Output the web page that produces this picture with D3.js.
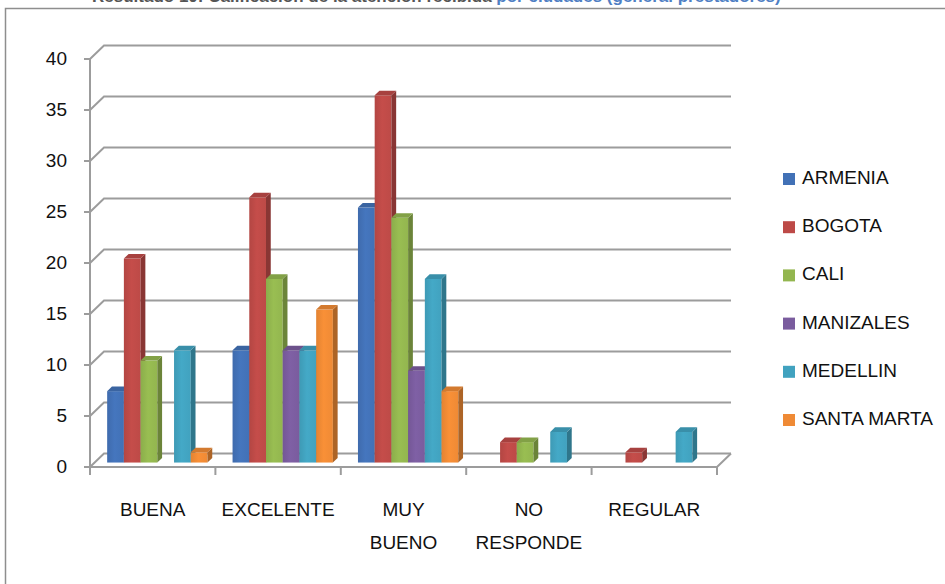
<!DOCTYPE html>
<html><head><meta charset="utf-8">
<script src="https://cdn.jsdelivr.net/npm/d3@7"></script>
<style>
html,body{margin:0;padding:0;background:#fff;overflow:hidden;}
svg{display:block;font-family:"Liberation Sans",Arial,sans-serif;}
</style></head>
<body><svg id="c" width="945" height="584"></svg>
<script>
const categories = ["BUENA","EXCELENTE","MUY BUENO","NO RESPONDE","REGULAR"];
const categoryLines = [["BUENA"],["EXCELENTE"],["MUY","BUENO"],["NO","RESPONDE"],["REGULAR"]];
const seriesNames = ["ARMENIA","BOGOTA","CALI","MANIZALES","MEDELLIN","SANTA MARTA"];
const armenia   = [7, 11, 25, 0, 0];
const bogota    = [20, 26, 36, 2, 1];
const cali      = [10, 18, 24, 2, 0];
const manizales = [0, 11, 9, 0, 0];
const medellin  = [11, 11, 18, 3, 3];
const santaMarta= [1, 15, 7, 0, 0];
const seriesValues = [armenia, bogota, cali, manizales, medellin, santaMarta];
const yTicks = [0,5,10,15,20,25,30,35,40];
const colors = ["#4271b6","#bd4a47","#93b64f","#7a5c9e","#41a2bf","#ef8a35"];

const svg = d3.select("#c");
// chart frame
svg.append("rect").attr("x",5.5).attr("y",8.5).attr("width",980).attr("height",620)
  .attr("fill","none").attr("stroke","#8e8e8e").attr("stroke-width",1.5);
// clipped title
svg.append("text").attr("x",92).attr("y",2).attr("font-size",17).attr("font-weight","bold")
  .attr("fill","#555").text("Resultado 10: Calificación de la atención recibida")
  .append("tspan").attr("fill","#4f7fc4").text(" por ciudades (general prestadores)");

const D = {x:14, y:-13.5};
const x = d3.scaleBand().domain(categories).range([90,717]).padding(0);
const xs = d3.scaleBand().domain(seriesNames).range([0,x.bandwidth()]).paddingInner(0).paddingOuter(0.75);
const y = d3.scaleLinear().domain([0,40]).range([467,59]);
const gridRight = 731;

const g = svg.append("g");
// gridlines (back wall) with left-wall diagonals
yTicks.forEach(v=>{
  const yy = y(v);
  g.append("path").attr("d",`M90,${yy}L${90+D.x},${yy+D.y}L${gridRight},${yy+D.y}`)
    .attr("fill","none").attr("stroke","#9c9c9c").attr("stroke-width",2);
  g.append("line").attr("x1",84).attr("x2",90).attr("y1",yy).attr("y2",yy)
    .attr("stroke","#9c9c9c").attr("stroke-width",2);
  g.append("text").attr("x",67).attr("y",yy+1).attr("text-anchor","end")
    .attr("dominant-baseline","middle").attr("font-size",19).attr("fill","#111").text(v);
});
// axis line
g.append("line").attr("x1",90).attr("x2",90).attr("y1",y(0)).attr("y2",y(40))
  .attr("stroke","#9c9c9c").attr("stroke-width",2);
// floor front edge
g.append("path").attr("d",`M90,${y(0)}L717,${y(0)}L${717+D.x},${y(0)+D.y}`)
  .attr("fill","none").attr("stroke","#9c9c9c").attr("stroke-width",2);
// category ticks
x.domain().concat(["__end"]).forEach((c,i)=>{
  const xx = i<categories.length ? x(c) : 717;
  g.append("line").attr("x1",xx).attr("x2",xx).attr("y1",y(0)).attr("y2",y(0)+8)
    .attr("stroke","#9c9c9c").attr("stroke-width",2);
});

// bars
const t0 = 0.33, t1 = 0.67;
const off = {x:D.x*t0, y:D.y*t0};
const dd = {x:D.x*(t1-t0), y:D.y*(t1-t0)};
const defs = svg.append("defs");
colors.forEach((col,i)=>{
  const gr = defs.append("linearGradient").attr("id","gf"+i).attr("x1",0).attr("x2",1).attr("y1",0).attr("y2",0);
  gr.append("stop").attr("offset",0).attr("stop-color",d3.color(col).darker(0.15));
  gr.append("stop").attr("offset",0.45).attr("stop-color",d3.color(col).brighter(0.12));
  gr.append("stop").attr("offset",1).attr("stop-color",col);
});
const bars = g.append("g");
categories.forEach((c,ci)=>{
  seriesNames.forEach((s,si)=>{
    const v = seriesValues[si][ci];
    if(!v) return;
    const x0 = x(c)+xs(s)+off.x, x1 = x0+xs.bandwidth();
    const yt = y(v)+off.y, yb = y(0)+off.y;
    const col = colors[si];
    bars.append("rect").attr("x",x0).attr("y",yt).attr("width",x1-x0).attr("height",yb-yt)
      .attr("fill",`url(#gf${si})`);
    bars.append("path").attr("d",`M${x1},${yt}L${x1+dd.x},${yt+dd.y}L${x1+dd.x},${yb+dd.y}L${x1},${yb}Z`)
      .attr("fill",d3.color(col).darker(0.9));
    bars.append("path").attr("d",`M${x0},${yt}L${x1},${yt}L${x1+dd.x},${yt+dd.y}L${x0+dd.x},${yt+dd.y}Z`)
      .attr("fill",d3.color(col).darker(0.35));
  });
});

// x labels
categories.forEach((c,ci)=>{
  const cx = x(c)+x.bandwidth()/2;
  categoryLines[ci].forEach((ln,li)=>{
    g.append("text").attr("x",cx).attr("y",516+li*33).attr("text-anchor","middle")
      .attr("font-size",19).attr("fill","#111").text(ln);
  });
});

// legend
const leg = svg.append("g");
seriesNames.forEach((s,i)=>{
  const cy = 179 + i*48.2;
  leg.append("rect").attr("x",783).attr("y",cy-6).attr("width",12).attr("height",12).attr("fill",colors[i]);
  leg.append("text").attr("x",802).attr("y",cy).attr("dominant-baseline","middle")
    .attr("font-size",19).attr("fill","#111").text(s);
});
</script></body></html>
